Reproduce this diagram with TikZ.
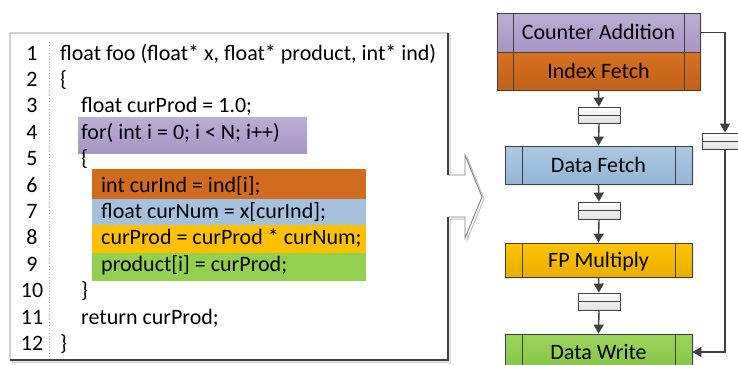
\documentclass[tikz,border=0pt]{standalone}
\usepackage{fontspec}
\setmainfont{Carlito}
\usetikzlibrary{arrows.meta,shadows}

\definecolor{edge}{HTML}{404040}
\definecolor{frame}{HTML}{7F7F7F}
\definecolor{purpleTop}{HTML}{BBAED6}
\definecolor{purpleBot}{HTML}{A795C3}
\definecolor{orangeTop}{HTML}{D9711F}
\definecolor{orangeBot}{HTML}{C0601A}
\definecolor{blueTop}{HTML}{ABC8E3}
\definecolor{blueBot}{HTML}{93B5D7}
\definecolor{yellowTop}{HTML}{FFC400}
\definecolor{yellowBot}{HTML}{EAAD00}
\definecolor{greenTop}{HTML}{9AD65A}
\definecolor{greenBot}{HTML}{86C446}
\definecolor{hlOrange}{HTML}{D26B1E}
\definecolor{hlBlue}{HTML}{A4C2DE}
\definecolor{hlYellow}{HTML}{FFC000}
\definecolor{hlGreen}{HTML}{92D050}

\tikzset{
  codetxt/.style={anchor=west, inner sep=0pt, text height=18pt, text depth=4pt,
    font=\fontsize{22}{26}\selectfont},
  lineno/.style={anchor=center, inner sep=0pt, text height=18pt, text depth=4pt,
    font=\fontsize{22}{26}\selectfont},
  stage/.style={draw=edge, line width=0.8pt, inner sep=0pt,
    font=\fontsize{22}{26}\selectfont, text height=18pt, text depth=4pt,
    drop shadow={shadow xshift=2pt, shadow yshift=-2pt, fill=black!12},
    path picture={
      \draw[edge, line width=0.7pt]
        ([xshift=#1]path picture bounding box.north west) --
        ([xshift=#1]path picture bounding box.south west)
        ([xshift=-#1]path picture bounding box.north east) --
        ([xshift=-#1]path picture bounding box.south east);}},
  stage/.default=16pt,
  register/.style={draw=edge, line width=0.8pt, inner sep=0pt,
    top color=white, bottom color=black!12,
    minimum width=42pt, minimum height=16pt,
    path picture={
      \draw[edge, line width=0.7pt]
        (path picture bounding box.west) -- (path picture bounding box.east);}},
  flow/.style={draw=edge, line width=1.4pt,
    -{Triangle[length=9pt,width=10pt]}},
}

\begin{document}
\begin{tikzpicture}[x=1pt,y=-1pt]
\useasboundingbox (0,0) rectangle (738,364);

% code frame with its arrow notch pointing to the pipeline
\draw[black!25, line width=1pt, shift={(2,2)}]
  (10,33) -- (448,33) -- (448,175) -- (465,175) -- (465,155) -- (482,197)
  -- (465,238) -- (465,217) -- (448,217) -- (448,360) -- (10,360) -- cycle;
\draw[fill=white, draw=frame, line width=0.9pt]
  (10,33) -- (448,33) -- (448,175) -- (465,175) -- (465,155) -- (482,197)
  -- (465,238) -- (465,217) -- (448,217) -- (448,360) -- (10,360) -- cycle;
\draw[edge, line width=1.2pt] (448,33) -- (448,175) (448,217) -- (448,360) -- (10,360);

% highlighted statements
\shade[top color=purpleTop, bottom color=purpleBot] (78,117) rectangle (307,153);
\fill[hlOrange] (92,169) rectangle (366,199);
\fill[hlBlue]   (92,199) rectangle (366,225);
\fill[hlYellow] (92,225) rectangle (366,253);
\fill[hlGreen]  (92,253) rectangle (366,281);

% line-number gutter
\draw[black!35, dotted, line width=0.8pt] (49,42) -- (49,356);
\foreach \n in {1,...,12}
  \node[lineno] (ln\n) at (32, {53+(\n-1)*26.4}) {\n};

% source lines
\node[codetxt] (c1)  at (60,53)     {float foo (float* x, float* product, int* ind)};
\node[codetxt] (c2)  at (60,79.4)   {\{};
\node[codetxt] (c3)  at (81,105.8)  {float curProd = 1.0;};
\node[codetxt] (c4)  at (81,132.2)  {for( int i = 0; i < N; i++)};
\node[codetxt] (c5)  at (81,158.6)  {\{};
\node[codetxt] (c6)  at (101,185)   {int curInd = ind[i];};
\node[codetxt] (c7)  at (101,211.4) {float curNum = x[curInd];};
\node[codetxt] (c8)  at (101,237.8) {curProd = curProd * curNum;};
\node[codetxt] (c9)  at (101,264.2) {product[i] = curProd;};
\node[codetxt] (c10) at (81,290.6)  {\}};
\node[codetxt] (c11) at (81,317)    {return curProd;};
\node[codetxt] (c12) at (60,343.4)  {\}};

% pipeline stages
\node[stage, top color=purpleTop, bottom color=purpleBot,
      minimum width=203pt, minimum height=39pt] (ca) at (598.5,32.5) {Counter Addition};
\node[stage, top color=orangeTop, bottom color=orangeBot,
      minimum width=203pt, minimum height=38pt] (idx) at (598.5,71) {Index Fetch};
\node[stage=17pt, top color=blueTop, bottom color=blueBot,
      minimum width=187pt, minimum height=38pt] (df) at (598.5,165) {Data Fetch};
\node[stage=17pt, top color=yellowTop, bottom color=yellowBot,
      minimum width=187pt, minimum height=34pt] (fp) at (598.5,260) {FP Multiply};
\node[stage=17pt, top color=greenTop, bottom color=greenBot,
      minimum width=187pt, minimum height=36pt] (dw) at (598.5,352) {Data Write};

% pipeline registers
\node[register] (r1) at (599,115) {};
\node[register, minimum height=17pt] (r2) at (599,210.5) {};
\node[register, minimum height=17pt] (r3) at (599,301.5) {};
\node[register, minimum width=46pt] (rr) at (725,141) {};

% data flow
\draw[flow] (idx.south) -- (r1.north);
\draw[flow] (r1.south) -- (df.north);
\draw[flow] (df.south) -- (r2.north);
\draw[flow] (r2.south) -- (fp.north);
\draw[flow] (fp.south) -- (r3.north);
\draw[flow] (r3.south) -- (dw.north);
\draw[flow] (ca.east) -| (rr.north);
\draw[flow] (rr.south) |- (dw.east);
\end{tikzpicture}
\end{document}
